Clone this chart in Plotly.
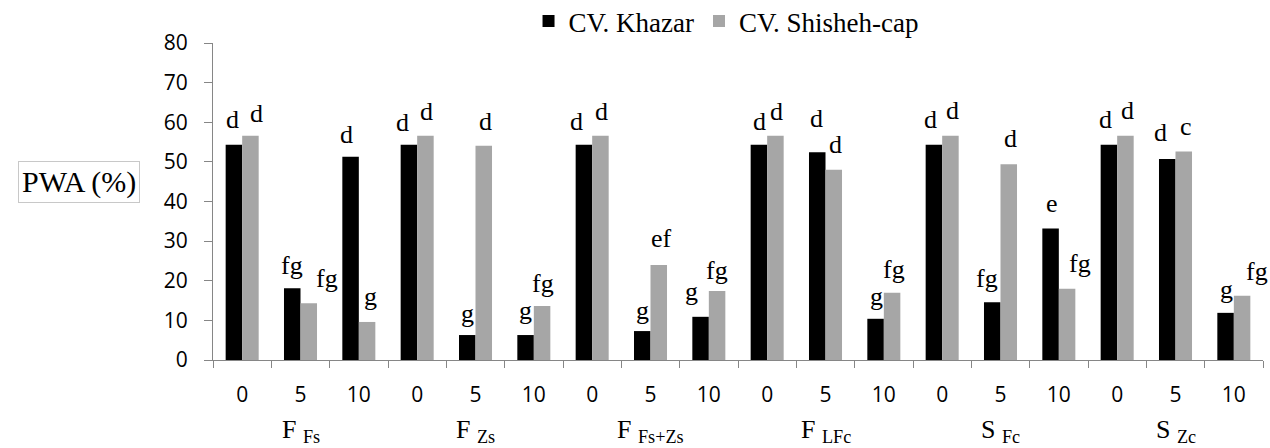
import plotly.graph_objects as go

# Treatments (groups) and application levels within each group
groups = ["F <sub>Fs</sub>", "F <sub>Zs</sub>", "F <sub>Fs+Zs</sub>",
          "F <sub>LFc</sub>", "S <sub>Fc</sub>", "S <sub>Zc</sub>"]
doses = ["0", "5", "10"]

# PWA (%) per cultivar, ordered group by group, dose by dose
khazar = [54.3, 18.1, 51.3, 54.3, 6.3, 6.3, 54.3, 7.3, 10.9,
          54.3, 52.4, 10.4, 54.3, 14.6, 33.2, 54.3, 50.7, 11.9]
shisheh = [56.6, 14.3, 9.6, 56.6, 54.1, 13.6, 56.6, 24.0, 17.4,
           56.6, 48.0, 17.0, 56.6, 49.4, 18.0, 56.6, 52.6, 16.2]

# Mean-separation letters
khazar_letters = ["d", "fg", "d", "d", "g", "g", "d", "g", "g",
                  "d", "d", "g", "d", "fg", "e", "d", "d", "g"]
shisheh_letters = ["d", "fg", "g", "d", "d", "fg", "d", "ef", "fg",
                   "d", "d", "fg", "d", "d", "fg", "d", "c", "fg"]

# Letter placement tweaks (pixels): horizontal nudge and height above bar top
khazar_dx = [-1, 0, -4, -6, 0, 0, -7, 0, -9, 1, -1, 1, -3, -5, 1, -3, -7, 1]
khazar_dy = [25, 23, 22, 22, 22, 25, 23, 21, 25, 23, 34, 22, 25, 24, 25, 25, 27, 23]
shisheh_dx = [6, 18, 3, 1, 2, 1, 1, 3, 0, 1, 2, 2, 2, 2, 13, 2, 2, 15]
shisheh_dy = [22, 25, 25, 24, 24, 23, 24, 26, 21, 24, 25, 23, 25, 26, 25, 25, 25, 24]

BLACK = "#000000"
GREY = "#a6a6a6"
AXIS = "#868686"
SERIF = "Liberation Serif"
SANS = "Open Sans"

# unique category ids, one per group/dose pair
cats = [f"{g}|{d}" for g in groups for d in doses]
tick_text = [d for _ in groups for d in doses]

fig = go.Figure()
fig.add_trace(go.Bar(x=cats, y=khazar, name="CV. Khazar",
                     marker=dict(color=BLACK, line=dict(width=0))))
fig.add_trace(go.Bar(x=cats, y=shisheh, name="CV. Shisheh-cap",
                     marker=dict(color=GREY, line=dict(width=0))))

half_bar = 8.25
annotations = []
for i, c in enumerate(cats):
    annotations.append(dict(x=c, y=khazar[i], xref="x", yref="y",
                            text=khazar_letters[i], showarrow=False,
                            xshift=-half_bar + khazar_dx[i], yshift=khazar_dy[i],
                            yanchor="middle", xanchor="center",
                            font=dict(family=SERIF, size=26, color="#000")))
    annotations.append(dict(x=c, y=shisheh[i], xref="x", yref="y",
                            text=shisheh_letters[i], showarrow=False,
                            xshift=half_bar + shisheh_dx[i], yshift=shisheh_dy[i],
                            yanchor="middle", xanchor="center",
                            font=dict(family=SERIF, size=26, color="#000")))

# group names under the dose labels
for gi, g in enumerate(groups):
    annotations.append(dict(x=cats[gi * 3 + 1], y=0, xref="x", yref="paper",
                            text=g, showarrow=False, yanchor="middle",
                            yshift=-71, xanchor="center",
                            font=dict(family=SERIF, size=26, color="#000")))

# boxed y-axis title
annotations.append(dict(x=-0.1276, y=0.563, xref="paper", yref="paper",
                        text="PWA (%)", showarrow=False,
                        xanchor="center", yanchor="middle",
                        bordercolor="#c8c8c8", borderwidth=1, borderpad=3,
                        font=dict(family=SERIF, size=30, color="#000")))

fig.update_layout(
    width=1270, height=448,
    margin=dict(l=213, r=7, t=43, b=88, autoexpand=False),
    paper_bgcolor="white", plot_bgcolor="white",
    font=dict(family=SERIF, color="#000"),
    barmode="group", bargap=0.434, bargroupgap=0,
    showlegend=True,
    legend=dict(orientation="h", x=0.4886, xanchor="center", y=1.068, yanchor="middle",
                font=dict(family=SERIF, size=27, color="#000"),
                bgcolor="rgba(0,0,0,0)", itemwidth=30, tracegroupgap=0),
    annotations=annotations,
    xaxis=dict(type="category", tickmode="array", tickvals=cats, ticktext=tick_text,
               tickson="boundaries", ticks="outside", ticklen=7, tickcolor=AXIS,
               showline=True, linecolor=AXIS, linewidth=1, showgrid=False,
               ticklabelstandoff=16,
               tickfont=dict(family=SANS, size=21, color="#000"),
               range=[-0.5, len(cats) - 0.5]),
    yaxis=dict(range=[0, 80], tickmode="array", tickvals=list(range(0, 81, 10)),
               ticks="outside", ticklen=8, tickcolor=AXIS,
               showline=True, linecolor=AXIS, linewidth=1, showgrid=False,
               zeroline=False, ticklabelstandoff=12,
               tickfont=dict(family=SANS, size=21, color="#000")),
)

fig.write_html("out.html")
